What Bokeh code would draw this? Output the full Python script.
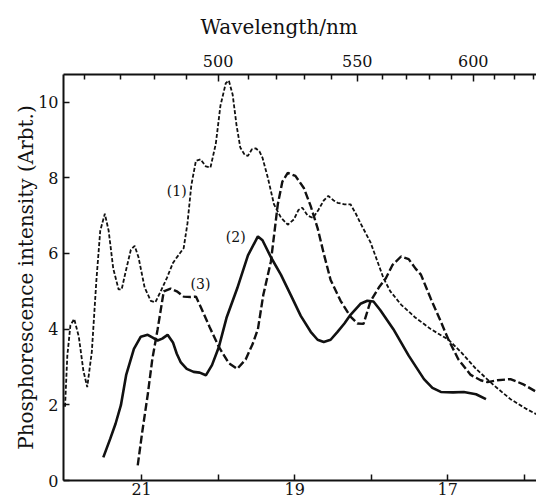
from bokeh.plotting import figure
from bokeh.models import Range1d, LinearAxis, FixedTicker, CustomJSTickFormatter, Label
from bokeh.embed import file_html
from bokeh.resources import INLINE

# Wavenumber (10^3 cm^-1) and phosphorescence intensity (arb.) for three spectra
wn1 = [22.0, 21.97, 21.93, 21.88, 21.82, 21.76, 21.71, 21.65, 21.59, 21.54,
       21.48, 21.43, 21.37, 21.30, 21.26, 21.21, 21.14, 21.09, 21.04, 20.96,
       20.88, 20.82, 20.75, 20.67, 20.59, 20.52, 20.45, 20.40, 20.35, 20.29,
       20.23, 20.16, 20.10, 20.03, 19.97, 19.90, 19.86, 19.81, 19.76, 19.71,
       19.65, 19.61, 19.56, 19.51, 19.46, 19.42, 19.35, 19.27, 19.18, 19.09,
       19.01, 18.95, 18.90, 18.83, 18.76, 18.69, 18.62, 18.56, 18.49, 18.44,
       18.35, 18.27, 18.20, 18.14, 18.01, 17.92, 17.84, 17.75, 17.61, 17.42,
       17.22, 16.99, 16.83, 16.63, 16.40, 16.18, 15.98, 15.84]
int1 = [1.95, 3.3, 4.1, 4.27, 3.8, 2.9, 2.47, 3.4, 5.3, 6.6,
        7.05, 6.6, 5.6, 5.05, 5.05, 5.5, 6.1, 6.2, 5.9, 5.1,
        4.75, 4.71, 5.0, 5.35, 5.75, 5.95, 6.14, 6.8, 7.8, 8.45,
        8.49, 8.3, 8.27, 8.9, 9.9, 10.5, 10.57, 10.2, 9.4, 8.8,
        8.6, 8.58, 8.75, 8.78, 8.7, 8.53, 8.0, 7.3, 6.95, 6.76,
        6.9, 7.15, 7.21, 7.0, 6.94, 7.15, 7.4, 7.52, 7.4, 7.34,
        7.3, 7.3, 7.05, 6.8, 6.3, 5.8, 5.35, 5.0, 4.65, 4.3,
        4.0, 3.72, 3.4, 2.95, 2.52, 2.15, 1.9, 1.75]

wn2 = [21.50, 21.41, 21.34, 21.27, 21.20, 21.10, 21.01, 20.92, 20.86, 20.79,
       20.73, 20.66, 20.59, 20.54, 20.49, 20.41, 20.32, 20.24, 20.16, 20.08,
       19.99, 19.89, 19.75, 19.61, 19.48, 19.42, 19.31, 19.18, 19.05, 18.92,
       18.79, 18.70, 18.62, 18.53, 18.44, 18.35, 18.27, 18.14, 18.05, 17.97,
       17.88, 17.71, 17.51, 17.31, 17.20, 17.09, 16.93, 16.79, 16.63, 16.50]
int2 = [0.61, 1.1, 1.5, 1.99, 2.8, 3.48, 3.8, 3.85, 3.78, 3.70,
        3.75, 3.85, 3.65, 3.35, 3.13, 2.95, 2.87, 2.85, 2.78, 3.05,
        3.53, 4.3, 5.08, 5.95, 6.45, 6.35, 5.9, 5.44, 4.9, 4.35,
        3.93, 3.72, 3.66, 3.72, 3.93, 4.15, 4.38, 4.67, 4.75, 4.73,
        4.5, 4.0, 3.3, 2.68, 2.45, 2.34, 2.33, 2.34, 2.28, 2.15]

wn3 = [21.05, 20.99, 20.92, 20.86, 20.79, 20.71, 20.62, 20.54, 20.45, 20.36,
       20.29, 20.23, 20.11, 19.99, 19.86, 19.75, 19.64, 19.55, 19.48, 19.41,
       19.31, 19.22, 19.16, 19.09, 18.99, 18.88, 18.79, 18.70, 18.62, 18.53,
       18.40, 18.27, 18.18, 18.10, 18.01, 17.90, 17.81, 17.72, 17.61, 17.51,
       17.42, 17.35, 17.22, 17.09, 16.99, 16.86, 16.70, 16.57, 16.48, 16.35,
       16.18, 16.02, 15.84]
int3 = [0.40, 1.3, 2.26, 3.2, 4.0, 5.0, 5.07, 5.0, 4.86, 4.85,
        4.86, 4.6, 4.05, 3.53, 3.1, 2.95, 3.2, 3.6, 4.0, 4.9,
        5.79, 7.3, 7.9, 8.13, 8.05, 7.73, 7.25, 6.67, 6.0, 5.3,
        4.75, 4.33, 4.15, 4.14, 4.73, 5.1, 5.34, 5.7, 5.92, 5.85,
        5.6, 5.44, 4.8, 4.2, 3.72, 3.2, 2.79, 2.65, 2.6, 2.65,
        2.68, 2.55, 2.34]

# Curve labels
label_text = ["(1)", "(2)", "(3)"]
label_x = [20.54, 19.77, 20.23]
label_y = [7.65, 6.43, 5.2]

# Axis ticks
wn_major = [21, 19, 17]
wn_minor = [20, 18, 16]
y_ticks = [0, 2, 4, 6, 8, 10]
wl_major = [500, 550, 600]
wl_minor = [460, 470, 480, 490, 510, 520, 530, 540, 560, 570, 580, 590, 610, 620, 630]

FONT = "DejaVu Serif"
INK = "#111111"

p = figure(width=536, height=497, output_backend="svg", toolbar_location=None,
           x_range=Range1d(22.02, 15.84), y_range=Range1d(0, 10.73),
           min_border_left=63, min_border_top=74, min_border_right=0,
           min_border_bottom=0, background_fill_color="white",
           border_fill_color="white")
p.outline_line_color = None
p.outline_line_alpha = 0
p.grid.visible = False

p.title.text = "Wavelength/nm"
p.title.align = "left"
p.title.offset = 137
p.title.text_font = FONT
p.title.text_font_size = "20px"
p.title.text_font_style = "normal"
p.title.text_color = INK
p.title.standoff = 25

def style_axis(ax, tick_len=6):
    ax.axis_line_width = 2
    ax.axis_line_color = INK
    ax.major_tick_line_color = INK
    ax.minor_tick_line_color = INK
    ax.major_tick_line_width = 1.5
    ax.minor_tick_line_width = 1.5
    ax.major_tick_in = tick_len
    ax.major_tick_out = 0
    ax.minor_tick_in = tick_len
    ax.minor_tick_out = 0
    ax.major_label_text_font = FONT
    ax.major_label_text_font_size = "16px"
    ax.major_label_text_color = INK
    ax.axis_label_text_font = FONT
    ax.axis_label_text_font_style = "normal"
    ax.axis_label_text_color = INK
    ax.axis_label_text_font_size = "20px"

xa = p.xaxis[0]
xa.ticker = FixedTicker(ticks=wn_major, minor_ticks=wn_minor)
style_axis(xa, 6)
xa.major_label_standoff = 2

ya = p.yaxis[0]
ya.ticker = FixedTicker(ticks=y_ticks, minor_ticks=[])
style_axis(ya, 6)
ya.major_label_standoff = 5
ya.axis_label = "Phosphorescence intensity (Arbt.)"
ya.axis_label_standoff = -3

top = LinearAxis(ticker=FixedTicker(ticks=[10000 / w for w in wl_major],
                                    minor_ticks=[10000 / w for w in wl_minor]),
                 formatter=CustomJSTickFormatter(code="return Math.round(10000 / tick).toString();"))
style_axis(top, 6)
top.minor_tick_in = 5
top.major_tick_in = 7
top.major_label_standoff = 8
p.add_layout(top, "above")

p.line(wn1, int1, line_color=INK, line_width=1.8, line_dash="4 2")
p.line(wn2, int2, line_color=INK, line_width=2.6)
p.line(wn3, int3, line_color=INK, line_width=2.4, line_dash="8 3")

for t, x, y in zip(label_text, label_x, label_y):
    p.add_layout(Label(x=x, y=y, text=t, text_font=FONT, text_font_size="14px",
                       text_color=INK, text_align="center", text_baseline="middle"))

open("out.html", "w").write(file_html(p, INLINE))
